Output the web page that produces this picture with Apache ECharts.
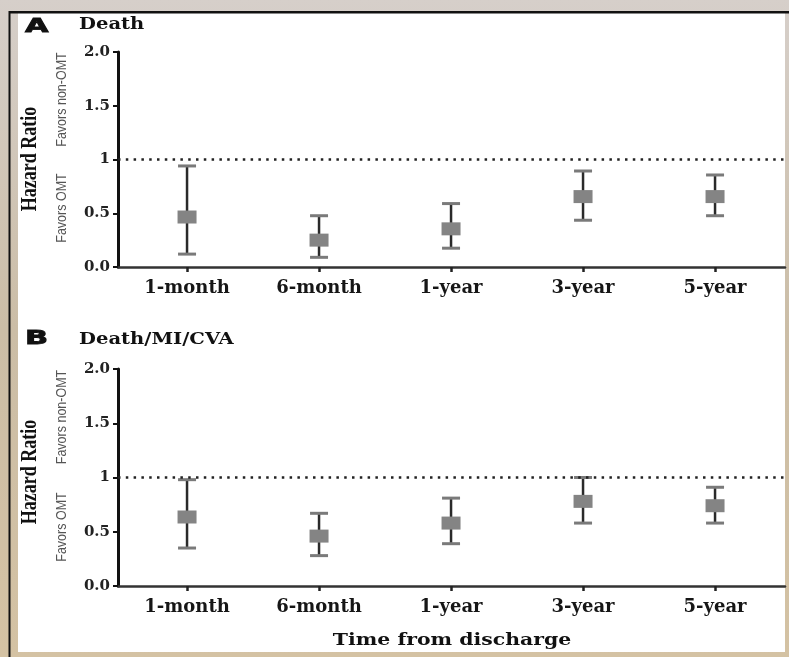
<!DOCTYPE html>
<html><head><meta charset="utf-8">
<script src="https://cdn.jsdelivr.net/npm/echarts@6/dist/echarts.min.js"></script>
<style>html,body{margin:0;padding:0;background:#cfc2ad}#c{width:789px;height:657px}</style>
</head><body><div id="c"></div>
<script>
// ---- data ----
const categories = ['1-month', '6-month', '1-year', '3-year', '5-year'];
const yTickValues = [0, 0.5, 1, 1.5, 2];
const yTickLabels = ['0.0', '0.5', '1', '1.5', '2.0'];
const referenceHR = 1;

// Panel A: Death
const deathHR   = [0.465, 0.25, 0.355, 0.655, 0.655];
const deathLow  = [0.12, 0.09, 0.175, 0.435, 0.477];
const deathHigh = [0.94, 0.477, 0.59, 0.893, 0.856];

// Panel B: Death/MI/CVA
const compHR   = [0.636, 0.46, 0.58, 0.78, 0.74];
const compLow  = [0.35, 0.28, 0.39, 0.58, 0.58];
const compHigh = [0.98, 0.67, 0.81, 1.0, 0.91];

const panelTitles = ['Death', 'Death/MI/CVA'];
const panelLetters = ['A', 'B'];
const yAxisTitle = 'Hazard Ratio';
const favorUp = 'Favors non-OMT';
const favorDown = 'Favors OMT';
const xAxisTitle = 'Time from discharge';

// ---- build ----
function rows(hr, lo, hi) { return hr.map((v, i) => [i, lo[i], hi[i], v]); }

function renderItem(params, api) {
  const x = api.value(0);
  const pLo = api.coord([x, api.value(1)]);
  const pHi = api.coord([x, api.value(2)]);
  const pMid = api.coord([x, api.value(3)]);
  const capW = 18, boxW = 19, boxH = 13;
  return {
    type: 'group',
    children: [
      { type: 'line', shape: { x1: pLo[0], y1: pLo[1], x2: pHi[0], y2: pHi[1] }, style: { stroke: '#2a2a2a', lineWidth: 2.5 } },
      { type: 'line', shape: { x1: pHi[0] - capW / 2, y1: pHi[1], x2: pHi[0] + capW / 2, y2: pHi[1] }, style: { stroke: '#7a7a7a', lineWidth: 3 } },
      { type: 'line', shape: { x1: pLo[0] - capW / 2, y1: pLo[1], x2: pLo[0] + capW / 2, y2: pLo[1] }, style: { stroke: '#7a7a7a', lineWidth: 3 } },
      { type: 'rect', shape: { x: pMid[0] - boxW / 2, y: pMid[1] - boxH / 2, width: boxW, height: boxH }, style: { fill: '#848484' } }
    ]
  };
}

const catIdx = categories.map((c, i) => i);

function xAxis(gi) {
  return {
    type: 'value', gridIndex: gi, min: -0.523, max: 4.53,
    axisLine: { show: true, onZero: false, lineStyle: { color: '#333', width: 2.5 } },
    axisTick: { show: true, customValues: catIdx, length: 5, lineStyle: { color: '#222', width: 2.5 } },
    axisLabel: {
      customValues: catIdx, margin: 12,
      formatter: v => categories[Math.round(v)],
      fontFamily: '"DejaVu Serif"', fontWeight: 'bold', fontSize: 18, color: '#161616'
    },
    splitLine: { show: false }
  };
}
function yAxis(gi) {
  return {
    type: 'value', gridIndex: gi, min: 0, max: 2, interval: 0.5,
    axisLine: { show: true, onZero: false, lineStyle: { color: '#111', width: 3 } },
    axisTick: { show: true, length: 5, lineStyle: { color: '#111', width: 2 } },
    axisLabel: {
      margin: 8,
      formatter: v => { const k = yTickValues.findIndex(t => Math.abs(t - v) < 1e-6); return k >= 0 ? yTickLabels[k] : ''; },
      fontFamily: '"DejaVu Serif"', fontWeight: 'bold', fontSize: 15, color: '#222'
    },
    splitLine: { show: false }
  };
}
function series(gi, data) {
  return {
    type: 'custom', xAxisIndex: gi, yAxisIndex: gi, data: data, renderItem: renderItem, z: 3,
    markLine: {
      silent: true, symbol: ['none', 'none'], label: { show: false },
      lineStyle: { color: '#222', width: 2.5, type: [2.5, 5.3] },
      emphasis: { disabled: true },
      data: [{ yAxis: referenceHR }]
    }
  };
}

function rotText(text, x, y, opts) {
  return Object.assign({
    type: 'text', x: x, y: y, rotation: Math.PI / 2, z: 10,
    style: Object.assign({ text: text, align: 'center', verticalAlign: 'middle' }, opts.style)
  }, opts.extra || {});
}

const graphics = [
  { type: 'rect', z: -100, shape: { x: 0, y: 0, width: 789, height: 657 },
    style: { fill: new echarts.graphic.LinearGradient(0, 0, 0, 1, [{ offset: 0, color: '#d6cfca' }, { offset: 0.5, color: '#cbbda6' }, { offset: 1, color: '#d4c2a3' }]) } },
  { type: 'rect', z: -99, shape: { x: 18, y: 13, width: 767, height: 639 }, style: { fill: '#ffffff' } },
  { type: 'rect', z: -98, shape: { x: 10, y: 11, width: 779, height: 2.5 }, style: { fill: '#111' } },
  { type: 'rect', z: -98, shape: { x: 8.5, y: 11, width: 2, height: 646 }, style: { fill: '#111' } }
];
const letterY = [27, 339];
const titleY = [24.5, 340];
const hazY = [159, 472];
const favUpY = [99.5, 417];
const favDnY = [208, 527];
for (let p = 0; p < 2; p++) {
  graphics.push({ type: 'text', x: 25, y: letterY[p], scaleX: 1.6, z: 10,
    style: { text: panelLetters[p], fontFamily: '"DejaVu Sans"', fontWeight: 'bold', fontSize: 19, fill: '#111', verticalAlign: 'middle', stroke: '#111', lineWidth: 0.8 } });
  graphics.push({ type: 'text', x: 79, y: titleY[p], scaleX: 1.15, z: 10,
    style: { text: panelTitles[p], fontFamily: '"DejaVu Serif"', fontWeight: 'bold', fontSize: 17, fill: '#111', verticalAlign: 'middle' } });
  graphics.push(rotText(yAxisTitle, 30, hazY[p], { style: { fontFamily: '"Liberation Serif"', fontWeight: 'bold', fontSize: 18, fill: '#111' }, extra: { scaleY: 1.3 } }));
  graphics.push(rotText(favorUp, 62, favUpY[p], { style: { fontFamily: '"Liberation Sans"', fontSize: 12.5, fill: '#555' }, extra: { scaleY: 1.22 } }));
  graphics.push(rotText(favorDown, 62, favDnY[p], { style: { fontFamily: '"Liberation Sans"', fontSize: 12.5, fill: '#555' }, extra: { scaleY: 1.22 } }));
}
graphics.push({ type: 'text', x: 452, y: 641, scaleX: 1.2, z: 10,
  style: { text: xAxisTitle, fontFamily: '"DejaVu Serif"', fontWeight: 'bold', fontSize: 17, fill: '#111', align: 'center', verticalAlign: 'middle' } });

const chart = echarts.init(document.getElementById('c'), null, { renderer: 'canvas' });
chart.setOption({
  animation: false,
  backgroundColor: 'transparent',
  grid: [
    { left: 118, top: 52, width: 667, height: 215 },
    { left: 118, top: 369, width: 667, height: 217 }
  ],
  xAxis: [xAxis(0), xAxis(1)],
  yAxis: [yAxis(0), yAxis(1)],
  series: [series(0, rows(deathHR, deathLow, deathHigh)), series(1, rows(compHR, compLow, compHigh))],
  graphic: graphics
});
</script></body></html>
